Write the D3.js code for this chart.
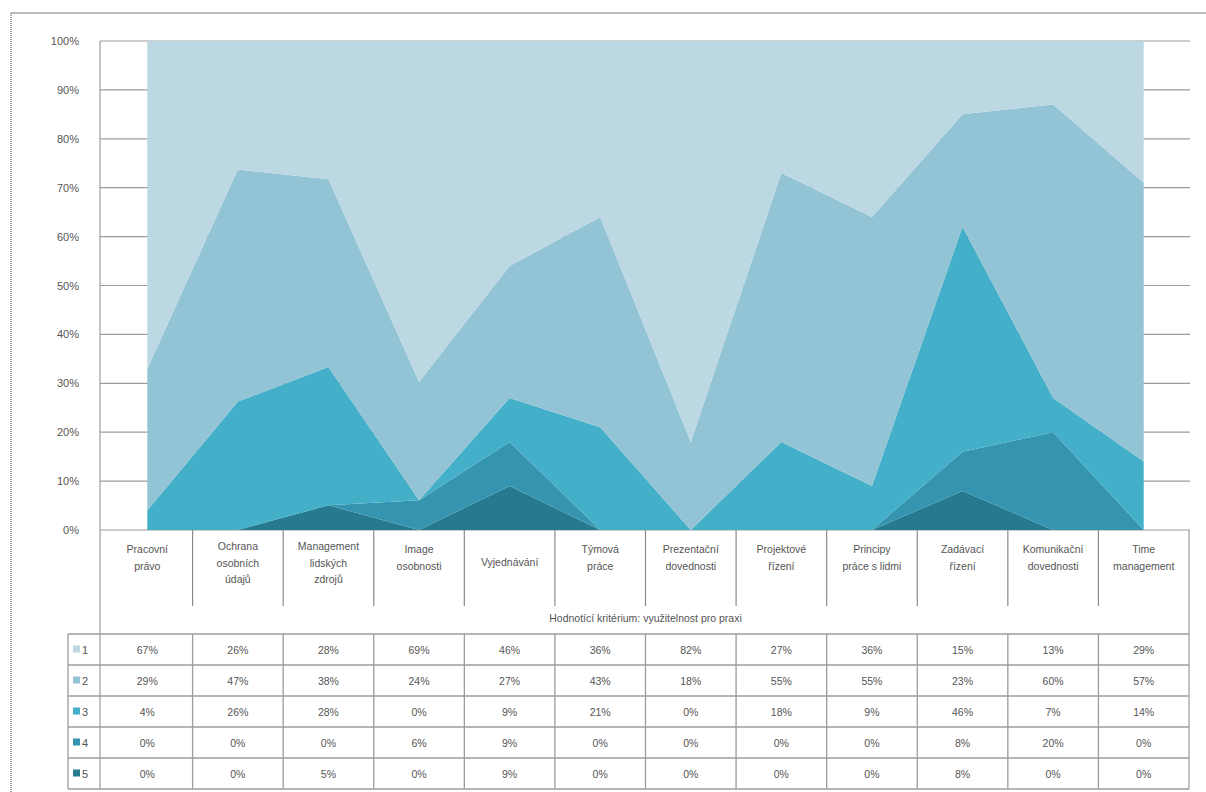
<!DOCTYPE html>
<html><head><meta charset="utf-8">
<script src="https://cdn.jsdelivr.net/npm/d3@7/dist/d3.min.js"></script>
<style>
html,body{margin:0;padding:0;background:#fff;}
svg text{font-family:"Liberation Sans","DejaVu Sans",sans-serif;}
</style></head>
<body>
<svg id="c" width="1206" height="792"></svg>
<script>
const categories = [
  ["Pracovní","právo"],
  ["Ochrana","osobních","údajů"],
  ["Management","lidských","zdrojů"],
  ["Image","osobnosti"],
  ["Vyjednávání"],
  ["Týmová","práce"],
  ["Prezentační","dovednosti"],
  ["Projektové","řízení"],
  ["Principy","práce s lidmi"],
  ["Zadávací","řízení"],
  ["Komunikační","dovednosti"],
  ["Time","management"]
];
const seriesNames = ["1","2","3","4","5"];
const s1 = [67,26,28,69,46,36,82,27,36,15,13,29];
const s2 = [29,47,38,24,27,43,18,55,55,23,60,57];
const s3 = [4,26,28,0,9,21,0,18,9,46,7,14];
const s4 = [0,0,0,6,9,0,0,0,0,8,20,0];
const s5 = [0,0,5,0,9,0,0,0,0,8,0,0];
const seriesValues = [s1,s2,s3,s4,s5];
const seriesColors = ["#bcd8e3","#93c4d6","#43afc8","#3595b0","#27798f"];
const yTicks = [0,0.1,0.2,0.3,0.4,0.5,0.6,0.7,0.8,0.9,1];
const axisTitle = "Hodnotící kritérium: využitelnost pro praxi";

const svg = d3.select("#c");
const L = 102, R = 1189, TOP = 41, BOT = 530;
const rowTop = 634, rowH = 31;
const gridColor = "#9c9c9c";

// outer frame
svg.append("line").attr("x1",11).attr("x2",1206).attr("y1",13).attr("y2",13).attr("stroke","#a6a6a6").attr("stroke-width",1.5);
svg.append("line").attr("x1",11).attr("x2",11).attr("y1",13).attr("y2",792).attr("stroke","#9a9a9a").attr("stroke-width",2).attr("stroke-dasharray","1,1");

const x = d3.scaleBand().domain(d3.range(categories.length)).range([L,R]);
const y = d3.scaleLinear().domain([0,1]).range([BOT,TOP]);

// gridlines
svg.append("g").selectAll("line").data(yTicks).join("line")
  .attr("x1",100).attr("x2",1190).attr("y1",d=>y(d)).attr("y2",d=>y(d))
  .attr("stroke",gridColor).attr("stroke-width",1.2);

// y labels
svg.append("g").selectAll("text").data(yTicks).join("text")
  .attr("x",79).attr("y",d=>y(d)+4).attr("text-anchor","end")
  .attr("font-size",11).attr("fill","#555").text(d=>d3.format(".0%")(d));

// stacked areas
const table = categories.map((c,i)=>{const o={i};seriesNames.forEach((n,k)=>o[n]=seriesValues[k][i]);return o;});
const stack = d3.stack().keys(seriesNames.slice().reverse()).offset(d3.stackOffsetExpand);
const layers = stack(table);
const area = d3.area().x(d=>x(d.data.i)+x.bandwidth()/2).y0(d=>y(d[0])).y1(d=>y(d[1]));
svg.append("g").selectAll("path").data(layers).join("path")
  .attr("d",area).attr("fill",d=>seriesColors[seriesNames.indexOf(d.key)]);

// axis line (left), running through the table
svg.append("line").attr("x1",100).attr("x2",100).attr("y1",TOP).attr("y2",rowTop+rowH*5).attr("stroke",gridColor).attr("stroke-width",1.2);
// right border of header/table
svg.append("line").attr("x1",R).attr("x2",R).attr("y1",BOT).attr("y2",rowTop+rowH*5).attr("stroke",gridColor).attr("stroke-width",1.2);

// category header separators
svg.append("g").selectAll("line").data(d3.range(1,categories.length)).join("line")
  .attr("x1",d=>x(d)).attr("x2",d=>x(d)).attr("y1",BOT).attr("y2",606)
  .attr("stroke","#8a8a8a").attr("stroke-width",1.2);

// category labels
const cg = svg.append("g").selectAll("text").data(categories).join("text")
  .attr("text-anchor","middle").attr("font-size",10.5).attr("fill","#555");
cg.each(function(lines,i){
  const t=d3.select(this);
  const startY = lines.length===3?550:(lines.length===2?553:566);
  lines.forEach((ln,j)=>{
    t.append("tspan").attr("x",x(i)+x.bandwidth()/2).attr("y",startY+j*16.5).text(ln);
  });
});

// axis title
svg.append("text").attr("x",(L+R)/2).attr("y",622).attr("text-anchor","middle")
  .attr("font-size",10.5).attr("fill","#555").text(axisTitle);

// table grid
const rowsY = d3.range(6).map(k=>rowTop+k*rowH);
svg.append("g").selectAll("line").data(rowsY).join("line")
  .attr("x1",68).attr("x2",R).attr("y1",d=>d).attr("y2",d=>d)
  .attr("stroke",gridColor).attr("stroke-width",1.3);
svg.append("line").attr("x1",68).attr("x2",68).attr("y1",rowTop).attr("y2",rowTop+rowH*5).attr("stroke",gridColor).attr("stroke-width",1.3);
svg.append("g").selectAll("line").data(d3.range(1,categories.length)).join("line")
  .attr("x1",d=>x(d)).attr("x2",d=>x(d)).attr("y1",rowTop).attr("y2",rowTop+rowH*5)
  .attr("stroke",gridColor).attr("stroke-width",1.3);

// legend keys & values
seriesNames.forEach((n,k)=>{
  const cy = rowTop + k*rowH + rowH/2;
  svg.append("rect").attr("x",73).attr("y",cy-4).attr("width",7).attr("height",7).attr("fill",seriesColors[k]);
  svg.append("text").attr("x",82).attr("y",cy+4).attr("font-size",11).attr("fill","#555").text(n);
  svg.append("g").selectAll("text").data(seriesValues[k]).join("text")
    .attr("x",(d,i)=>x(i)+x.bandwidth()/2).attr("y",cy+4).attr("text-anchor","middle")
    .attr("font-size",10.5).attr("fill","#555").text(d=>d+"%");
});
</script>
</body></html>
